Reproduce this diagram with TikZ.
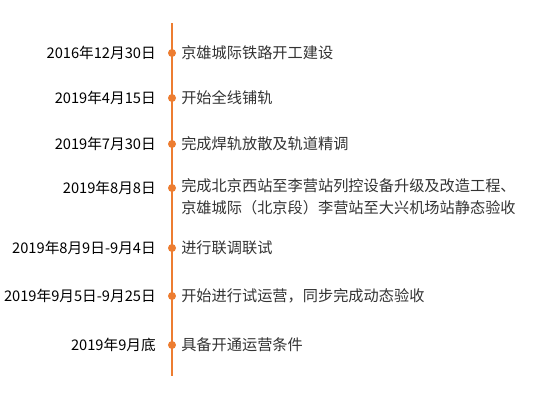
\documentclass[tikz,border=0pt]{standalone}
\usepackage{fontspec}
\setmainfont{Noto Sans CJK SC}
\usetikzlibrary{positioning}
\definecolor{line orange}{RGB}{237,125,49}
\definecolor{event gray}{RGB}{51,51,51}

\begin{document}
\begin{tikzpicture}[x=0.75pt, y=-0.75pt,
					milestone/.style={circle, fill=line orange, inner sep=0pt, minimum size=6pt},
					date label/.style={anchor=east, font=\fontsize{11}{13}\selectfont, text=black, inner sep=0pt},
					event label/.style={anchor=west, font=\fontsize{11.4}{16.5}\selectfont, text=event gray, inner sep=0pt, align=left},
				]
					\useasboundingbox (0,0) rectangle (542,404);
					\coordinate (top) at (172,23);
					\coordinate (bottom) at (172,376);
					\draw[line orange, line width=1.5pt] (top) -- (bottom);
					
					\node[milestone] (m1) at (172,53) {};
					\node[milestone] (m2) at (172,98) {};
					\node[milestone] (m3) at (172,144) {};
					\node[milestone] (m4) at (172,188) {};
					\node[milestone] (m5) at (172,248) {};
					\node[milestone] (m6) at (172,296) {};
					\node[milestone] (m7) at (172,345) {};
					
					\node[date label] (d1) at (156,53) {2016年12月30日};
					\node[date label] (d2) at (156,98) {2019年4月15日};
					\node[date label] (d3) at (156,144) {2019年7月30日};
					\node[date label] (d4) at (156,188) {2019年8月8日};
					\node[date label] (d5) at (156,248) {2019年8月9日-9月4日};
					\node[date label] (d6) at (156,296) {2019年9月5日-9月25日};
					\node[date label] (d7) at (156,345) {2019年9月底};
					
					\node[event label] (e1) at (181,53) {京雄城际铁路开工建设};
					\node[event label] (e2) at (181,98) {开始全线铺轨};
					\node[event label] (e3) at (181,144) {完成焊轨放散及轨道精调};
					\node[event label, anchor=north west] (e4) at (181,178) {完成北京西站至李营站列控设备升级及改造工程、\\京雄城际（北京段）李营站至大兴机场站静态验收};
					\node[event label] (e5) at (181,248) {进行联调联试};
					\node[event label] (e6) at (181,296) {开始进行试运营，同步完成动态验收};
					\node[event label] (e7) at (181,345) {具备开通运营条件};
				\end{tikzpicture}
\end{document}
